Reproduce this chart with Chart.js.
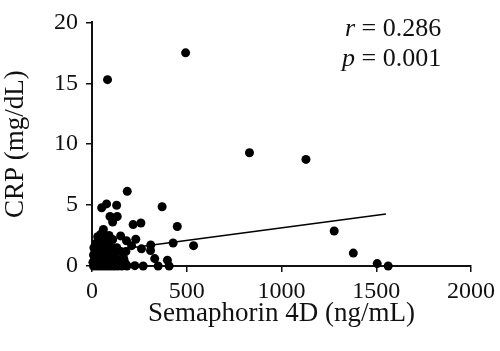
<!DOCTYPE html>
<html>
<head>
<meta charset="utf-8">
<script src="https://cdn.jsdelivr.net/npm/chart.js@4/dist/chart.umd.min.js"></script>
<style>
  html, body { margin: 0; padding: 0; background: #fff; }
  #grafico { display: block; }
</style>
</head>
<body>
<canvas id="grafico" width="500" height="351"></canvas>
<script>
// valores (Semaphorin 4D vs CRP)
const semaforina = [
  494, 82, 831, 1129, 1278, 1379, 1505, 1563,
  186, 51, 77, 130, 370, 95, 133, 217, 258, 450, 109, 60,
  42, 109, 151, 182, 231, 428, 536, 310, 261, 209, 309, 331, 398,
  407, 349, 270, 226, 182, 165,
  8, 24, 40, 56, 72, 88, 104, 120, 137, 158, 184,
  5, 20, 35, 50, 65, 80, 95, 110, 152, 173,
  14, 30, 46, 62, 78, 94, 128, 168,
  8, 24, 40, 56, 72, 88, 105,
  16, 32, 48, 64, 80, 125, 152, 179,
  10, 26, 42, 58, 74, 92, 110, 131,
  20, 38, 56, 79,
  30, 46, 64, 90
];
const crp = [
  17.5, 15.3, 9.3, 8.75, 2.87, 1.06, 0.2, 0.0,
  6.13, 4.78, 5.1, 4.99, 4.86, 4.06, 4.06, 3.4, 3.53, 3.24, 3.61, 3.0,
  2.47, 2.18, 2.47, 2.07, 2.2, 1.89, 1.67, 1.73, 1.41, 1.67, 1.27, 0.61, 0.48,
  0.0, 0.0, 0.0, 0.03, 0.08, 1.0,
  0.0, 0.0, 0.0, 0.0, 0.0, 0.0, 0.0, 0.0, 0.0, 0.0, 0.0,
  0.3, 0.3, 0.3, 0.3, 0.3, 0.3, 0.3, 0.3, 0.3, 0.3,
  0.6, 0.6, 0.6, 0.6, 0.6, 0.6, 0.6, 0.6,
  0.9, 0.9, 0.9, 0.9, 0.9, 0.9, 0.9,
  1.2, 1.2, 1.2, 1.2, 1.2, 1.2, 1.2, 1.2,
  1.5, 1.5, 1.5, 1.5, 1.5, 1.5, 1.5, 1.5,
  1.85, 1.85, 1.85, 1.85,
  2.4, 2.6, 2.3, 2.5
];
// recta de regresion (extremos)
const rectaX = [20, 1551];
const rectaY = [1.11, 4.27];

const ticksX = [0, 500, 1000, 1500, 2000];
const ticksY = [0, 5, 10, 15, 20];

const fuente = '"Liberation Serif", "DejaVu Serif", serif';

const puntos = semaforina.map((x, i) => ({ x: x, y: crp[i] }));
const recta = rectaX.map((x, i) => ({ x: x, y: rectaY[i] }));

// texto r y p arriba a la derecha
const textoCorrelacion = {
  id: 'textoCorrelacion',
  afterDraw(chart) {
    const ctx = chart.ctx;
    ctx.save();
    ctx.fillStyle = '#111';
    ctx.textBaseline = 'alphabetic';
    const lineas = [['r', ' = 0.286', 345, 36], ['p', ' = 0.001', 342, 66]];
    lineas.forEach(([letra, resto, x, y]) => {
      ctx.font = 'italic 26px ' + fuente;
      ctx.fillText(letra, x, y);
      const w = ctx.measureText(letra).width;
      ctx.font = '26px ' + fuente;
      ctx.fillText(resto, x + w, y);
    });
    ctx.restore();
  }
};

const ejeComun = {
  grid: { display: true, drawOnChartArea: false, drawTicks: true, tickLength: 6, color: '#111', lineWidth: 1.5 },
  border: { display: true, color: '#111', width: 2 }
};

new Chart(document.getElementById('grafico'), {
  type: 'scatter',
  data: {
    datasets: [
      {
        data: puntos,
        backgroundColor: '#000',
        borderWidth: 0,
        pointRadius: 4.5,
        clip: false
      },
      {
        type: 'line',
        data: recta,
        borderColor: '#000',
        borderWidth: 1.6,
        pointRadius: 0,
        fill: false
      }
    ]
  },
  options: {
    responsive: false,
    animation: false,
    layout: { padding: { top: 15, right: 27, left: 0, bottom: 0 } },
    plugins: { legend: { display: false }, tooltip: { enabled: false } },
    scales: {
      x: {
        ...ejeComun,
        type: 'linear',
        min: 0,
        max: 2000,
        afterBuildTicks: s => { s.ticks = ticksX.map(v => ({ value: v })); },
        afterFit: s => { s.height = 85; },
        ticks: { color: '#111', font: { family: fuente, size: 24 }, padding: 5, maxRotation: 0, callback: v => String(v) },
        title: { display: true, text: 'Semaphorin 4D (ng/mL)', color: '#111', font: { family: fuente, size: 27 }, padding: { top: 0, bottom: 21 } }
      },
      y: {
        ...ejeComun,
        type: 'linear',
        min: 0,
        max: 20,
        afterBuildTicks: s => { s.ticks = ticksY.map(v => ({ value: v })); },
        afterFit: s => { s.width = 92; },
        ticks: { color: '#111', font: { family: fuente, size: 24 }, padding: 8, callback: v => String(v) },
        title: { display: true, text: 'CRP (mg/dL)', color: '#111', font: { family: fuente, size: 27 }, padding: 0 }
      }
    }
  },
  plugins: [textoCorrelacion]
});
</script>
</body>
</html>
